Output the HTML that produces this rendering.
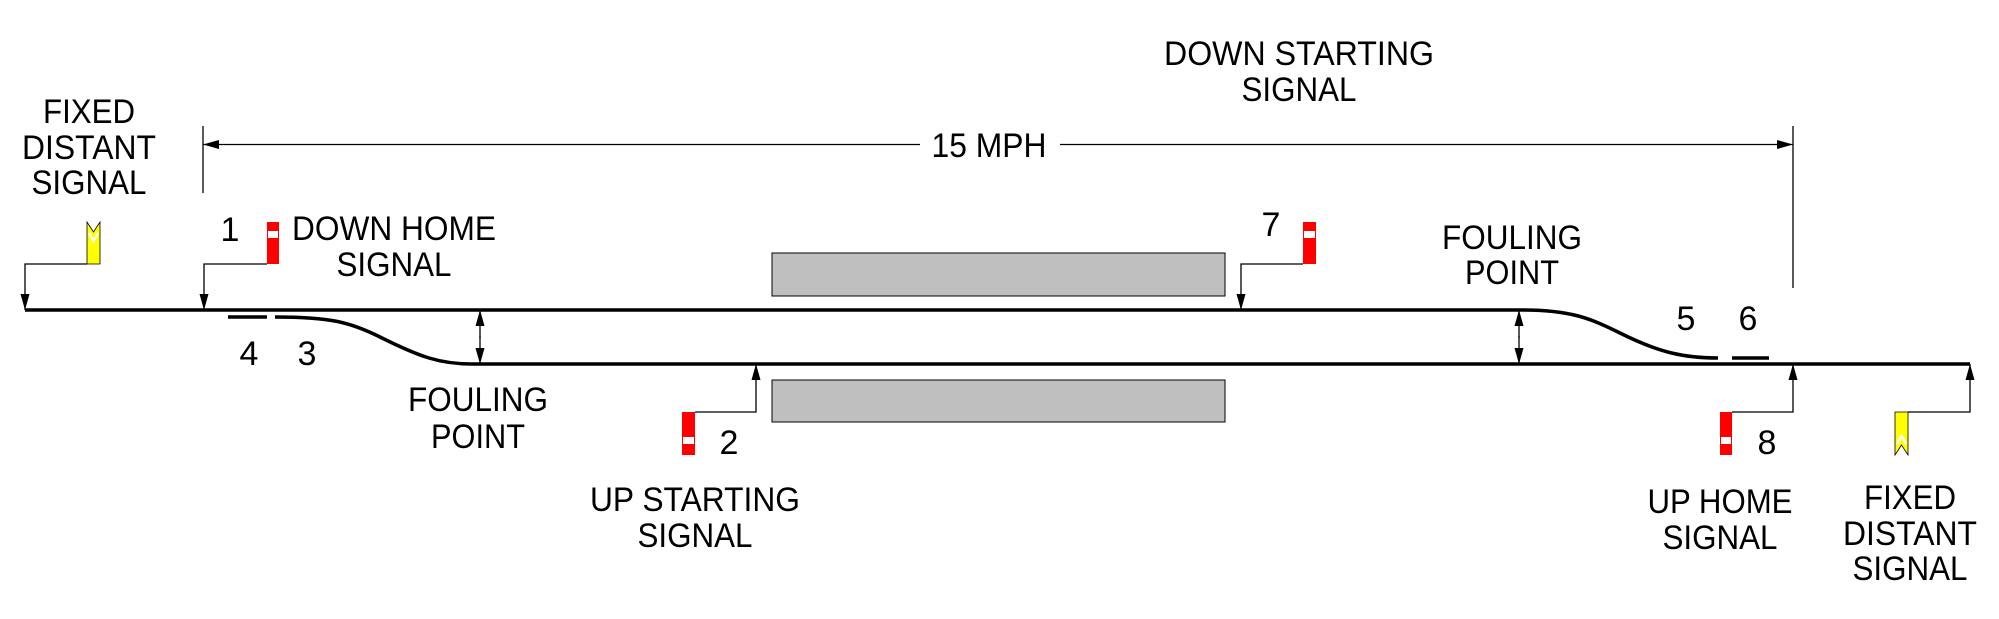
<!DOCTYPE html>
<html><head><meta charset="utf-8"><style>
html,body{margin:0;padding:0;background:#fff;}
svg{display:block}
text{font-family:"Liberation Sans",Arial,sans-serif;font-size:34px;fill:#000;text-anchor:middle}
</style></head><body>
<svg width="1999" height="619" viewBox="0 0 1999 619" xmlns="http://www.w3.org/2000/svg">
<defs>
<marker id="ah" viewBox="0 0 16 9" refX="16" refY="4.5" markerWidth="16" markerHeight="9" markerUnits="userSpaceOnUse" orient="auto">
<path d="M0,0 L16,4.5 L0,9 Z" fill="#000"/></marker>
</defs>

<rect x="772" y="253" width="453" height="43" fill="#bfbfbf" stroke="#000" stroke-width="1"/>
<rect x="772" y="380" width="453" height="42" fill="#bfbfbf" stroke="#000" stroke-width="1"/>

<g stroke="#000" stroke-width="3.5" fill="none">
<line x1="25" y1="310" x2="1522" y2="310"/>
<line x1="472" y1="364" x2="1970" y2="364"/>
<path d="M275,317 C330,317 350,322 380,337 C420,357 440,364 472,364"/>
<path d="M1522,310 C1570,310 1590,318 1620,333 C1660,353 1685,358 1718,358"/>
<line x1="228" y1="317" x2="267" y2="317"/>
<line x1="1732" y1="358" x2="1769" y2="358"/>
</g>

<g stroke="#000" stroke-width="1.3" fill="none">
<polyline points="87,264 25,264 25,310" marker-end="url(#ah)"/>
<polyline points="267,264 204,264 204,310" marker-end="url(#ah)"/>
<polyline points="1303,264 1241,264 1241,310" marker-end="url(#ah)"/>
<polyline points="695,412 756,412 756,364" marker-end="url(#ah)"/>
<polyline points="1732,412 1793,412 1793,364" marker-end="url(#ah)"/>
<polyline points="1908,412 1970,412 1970,364" marker-end="url(#ah)"/>
<line x1="480" y1="338" x2="480" y2="310" marker-end="url(#ah)"/>
<line x1="480" y1="336" x2="480" y2="364" marker-end="url(#ah)"/>
<line x1="1519" y1="338" x2="1519" y2="310" marker-end="url(#ah)"/>
<line x1="1519" y1="336" x2="1519" y2="364" marker-end="url(#ah)"/>
<line x1="203" y1="126" x2="203" y2="193"/>
<line x1="1793" y1="126" x2="1793" y2="288"/>
<line x1="920" y1="144.5" x2="203" y2="144.5" marker-end="url(#ah)"/>
<line x1="1060" y1="144.5" x2="1793" y2="144.5" marker-end="url(#ah)"/>
</g>

<g>
<rect x="267" y="222" width="12" height="42" fill="#f00"/><rect x="268" y="231" width="10" height="7" fill="#fff"/>
<rect x="1303" y="222" width="13" height="42" fill="#f00"/><rect x="1304" y="231" width="11" height="7" fill="#fff"/>
<rect x="682" y="412" width="13" height="43" fill="#f00"/><rect x="683" y="437" width="11" height="7" fill="#fff"/>
<rect x="1720" y="412" width="12" height="43" fill="#f00"/><rect x="1721" y="437" width="10" height="7" fill="#fff"/>
</g>
<polygon points="87,222 93.5,232 100,222 100,264 87,264" fill="#ff0" stroke="#000" stroke-width="0.8"/>
<polyline points="89,233 93.5,241 98,233" fill="none" stroke="#fff" stroke-width="2.5"/>
<polygon points="1895,412 1908,412 1908,455 1901.5,445 1895,455" fill="#ff0" stroke="#000" stroke-width="0.8"/>
<polyline points="1897,444 1901.5,436 1906,444" fill="none" stroke="#fff" stroke-width="2.5"/>

<text x="89" y="123" textLength="92" lengthAdjust="spacingAndGlyphs">FIXED</text>
<text x="89" y="159" textLength="134" lengthAdjust="spacingAndGlyphs">DISTANT</text>
<text x="89" y="194" textLength="115" lengthAdjust="spacingAndGlyphs">SIGNAL</text>

<text x="230" y="241">1</text>
<text x="394" y="240" textLength="204" lengthAdjust="spacingAndGlyphs">DOWN HOME</text>
<text x="394" y="276" textLength="115" lengthAdjust="spacingAndGlyphs">SIGNAL</text>

<text x="249" y="365">4</text>
<text x="307" y="365">3</text>

<text x="478" y="411" textLength="140" lengthAdjust="spacingAndGlyphs">FOULING</text>
<text x="478" y="448" textLength="94" lengthAdjust="spacingAndGlyphs">POINT</text>

<text x="729" y="454">2</text>
<text x="695" y="511" textLength="210" lengthAdjust="spacingAndGlyphs">UP STARTING</text>
<text x="695" y="547" textLength="115" lengthAdjust="spacingAndGlyphs">SIGNAL</text>

<text x="989" y="157" textLength="115" lengthAdjust="spacingAndGlyphs">15 MPH</text>

<text x="1299" y="65" textLength="270" lengthAdjust="spacingAndGlyphs">DOWN STARTING</text>
<text x="1299" y="101" textLength="115" lengthAdjust="spacingAndGlyphs">SIGNAL</text>

<text x="1271" y="236">7</text>

<text x="1512" y="249" textLength="140" lengthAdjust="spacingAndGlyphs">FOULING</text>
<text x="1512" y="284" textLength="94" lengthAdjust="spacingAndGlyphs">POINT</text>

<text x="1686" y="330">5</text>
<text x="1748" y="330">6</text>

<text x="1767" y="454">8</text>
<text x="1720" y="513" textLength="145" lengthAdjust="spacingAndGlyphs">UP HOME</text>
<text x="1720" y="549" textLength="115" lengthAdjust="spacingAndGlyphs">SIGNAL</text>

<text x="1910" y="509" textLength="92" lengthAdjust="spacingAndGlyphs">FIXED</text>
<text x="1910" y="545" textLength="134" lengthAdjust="spacingAndGlyphs">DISTANT</text>
<text x="1910" y="580" textLength="115" lengthAdjust="spacingAndGlyphs">SIGNAL</text>
</svg>
</body></html>
